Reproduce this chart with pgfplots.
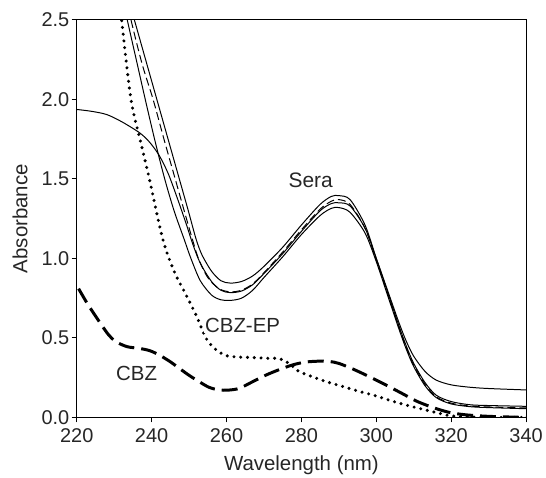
\documentclass[border=0pt]{standalone}
\usepackage{pgfplots}
\pgfplotsset{compat=1.18}
\usepackage{fontspec}
\setmainfont{Liberation Sans}
\begin{document}
\begin{tikzpicture}
\begin{axis}[
  scale only axis, width=451pt, height=399pt,
  xmin=220, xmax=340, ymin=0, ymax=2.5,
  xtick={220,240,...,340}, ytick={0,0.5,...,2.5},
  xtick pos=bottom, ytick pos=left, tick align=outside,
  major tick length=5pt,
  axis line style={line width=1.1pt}, tick style={line width=1.1pt, black},
  /pgf/number format/assume math mode=true,
  /pgf/number format/.cd, fixed, fixed zerofill, precision=1, /pgfplots/.cd,
  xticklabel={\pgfmathprintnumber[fixed,precision=0]{\tick}},
  tick label style={font=\fontsize{20}{22}\selectfont, text=black!85},
  xticklabel style={yshift=-3pt},
  yticklabel style={xshift=1pt},
  label style={font=\fontsize{20.5}{23}\selectfont, text=black!85},
  xlabel={Wavelength (nm)}, ylabel={Absorbance},
  xlabel style={at={(axis description cs:0.5,-0.12)}, anchor=center},
  ylabel style={at={(axis description cs:-0.126,0.5)}, anchor=center, rotate=0},
]
% Sera B (solid)
\addplot[black, line width=1pt, smooth, tension=0.5] coordinates {
(231.5,2.72)(233.5,2.5)(236,2.24)(238.5,1.98)(241,1.73)(243.5,1.5)(246,1.3)(248.7,1.12)(250.5,1.0)(253,0.86)(256,0.77)(258.5,0.74)(261,0.736)(264,0.75)(267,0.80)(270,0.88)(275,1.01)(280,1.15)(285,1.27)(288,1.315)(290,1.32)(293,1.29)(297,1.16)(300,0.98)(303,0.77)(306,0.56)(308,0.43)(310,0.32)(313,0.2)(316,0.125)(320,0.085)(325,0.068)(330,0.062)(340,0.055)};
% Sera C (dashed)
\addplot[black, line width=1pt, dash pattern=on 8pt off 4pt, smooth, tension=0.5] coordinates {
(232.6,2.72)(234.5,2.5)(237.5,2.22)(240.4,2.0)(243.3,1.75)(246.3,1.5)(248.7,1.3)(250.9,1.12)(252.5,1.0)(255,0.88)(258,0.81)(261,0.79)(264,0.80)(267,0.84)(270,0.91)(275,1.04)(280,1.18)(285,1.31)(288,1.36)(290,1.37)(293,1.34)(297,1.19)(300,0.99)(303,0.78)(306,0.57)(308,0.44)(310,0.33)(313,0.21)(316,0.13)(320,0.09)(325,0.072)(330,0.066)(340,0.06)};
% Sera D (solid)
\addplot[black, line width=1pt, smooth, tension=0.5] coordinates {
(233.6,2.65)(235.4,2.5)(238.4,2.25)(241.4,2.0)(244.4,1.75)(247.4,1.5)(249.8,1.3)(251.9,1.12)(253.5,1.02)(256,0.92)(258.5,0.86)(261,0.845)(264,0.855)(267,0.89)(270,0.95)(275,1.07)(280,1.21)(285,1.34)(288,1.39)(290,1.395)(293,1.37)(297,1.21)(300,1.0)(303,0.79)(306,0.58)(308,0.45)(310,0.34)(313,0.22)(316,0.14)(320,0.1)(325,0.08)(330,0.075)(340,0.07)};
% Sera A (solid, flat start)
\addplot[black, line width=1pt, smooth, tension=0.5] coordinates {
(220,1.937)(224,1.925)(228,1.905)(232,1.86)(236.8,1.79)(239.5,1.73)(242.1,1.645)(244.5,1.53)(247,1.37)(249.2,1.22)(251,1.09)(253,0.97)(256,0.855)(258.5,0.80)(261,0.785)(264,0.795)(267,0.835)(270,0.905)(275,1.03)(280,1.17)(285,1.30)(288,1.345)(290,1.35)(293,1.33)(297,1.19)(300,1.0)(303,0.80)(306,0.60)(308,0.48)(310,0.385)(313,0.29)(316,0.235)(320,0.205)(325,0.19)(330,0.182)(340,0.173)};
% CBZ-EP (dotted)
\addplot[black, line width=3.4pt, line cap=round, dash pattern=on 0pt off 6.8pt, smooth, tension=0.5] coordinates {
(231.2,2.75)(232,2.5)(234.5,2.0)(237,1.74)(239.4,1.5)(243,1.12)(246,0.92)(249,0.78)(251.9,0.643)(254.5,0.5)(257,0.43)(259.8,0.39)(263,0.38)(267,0.377)(271,0.372)(274,0.37)(276.7,0.34)(279.3,0.29)(282.5,0.26)(286.4,0.227)(291,0.195)(295.3,0.165)(300,0.135)(304.2,0.103)(308.5,0.075)(313,0.048)(317,0.025)(320,0.01)(325,0.003)(330,0.0)(340,0.0)};
% CBZ (long dashed)
\addplot[black, line width=3pt, dash pattern=on 16pt off 7pt, smooth] coordinates {
(220.5,0.81)(223,0.71)(226.1,0.60)(228.5,0.52)(230.5,0.476)(233.5,0.445)(236.8,0.434)(239.5,0.42)(242.1,0.392)(245,0.35)(247.4,0.309)(250,0.265)(252.7,0.225)(255.3,0.19)(258,0.173)(260.5,0.172)(263.4,0.183)(267,0.225)(270.6,0.267)(274,0.30)(277.6,0.33)(281,0.348)(284.7,0.354)(287.5,0.352)(290,0.34)(294,0.302)(298,0.258)(302.5,0.205)(306.8,0.152)(311,0.10)(315.7,0.058)(319.5,0.032)(323.7,0.017)(330,0.007)(340,0.0)};
\node[font=\fontsize{21}{24}\selectfont, text=black!85] at (axis cs:282.5,1.49) {Sera};
\node[font=\fontsize{20.5}{23}\selectfont, text=black!85, fill=white, inner sep=1pt] at (axis cs:264.3,0.58) {CBZ-EP};
\node[font=\fontsize{20.5}{23}\selectfont, text=black!85] at (axis cs:236,0.278) {CBZ};
\end{axis}
\path ([xshift=-77pt,yshift=-59pt]current axis.south west) rectangle ([xshift=18pt,yshift=20pt]current axis.north east);
\end{tikzpicture}
\end{document}
